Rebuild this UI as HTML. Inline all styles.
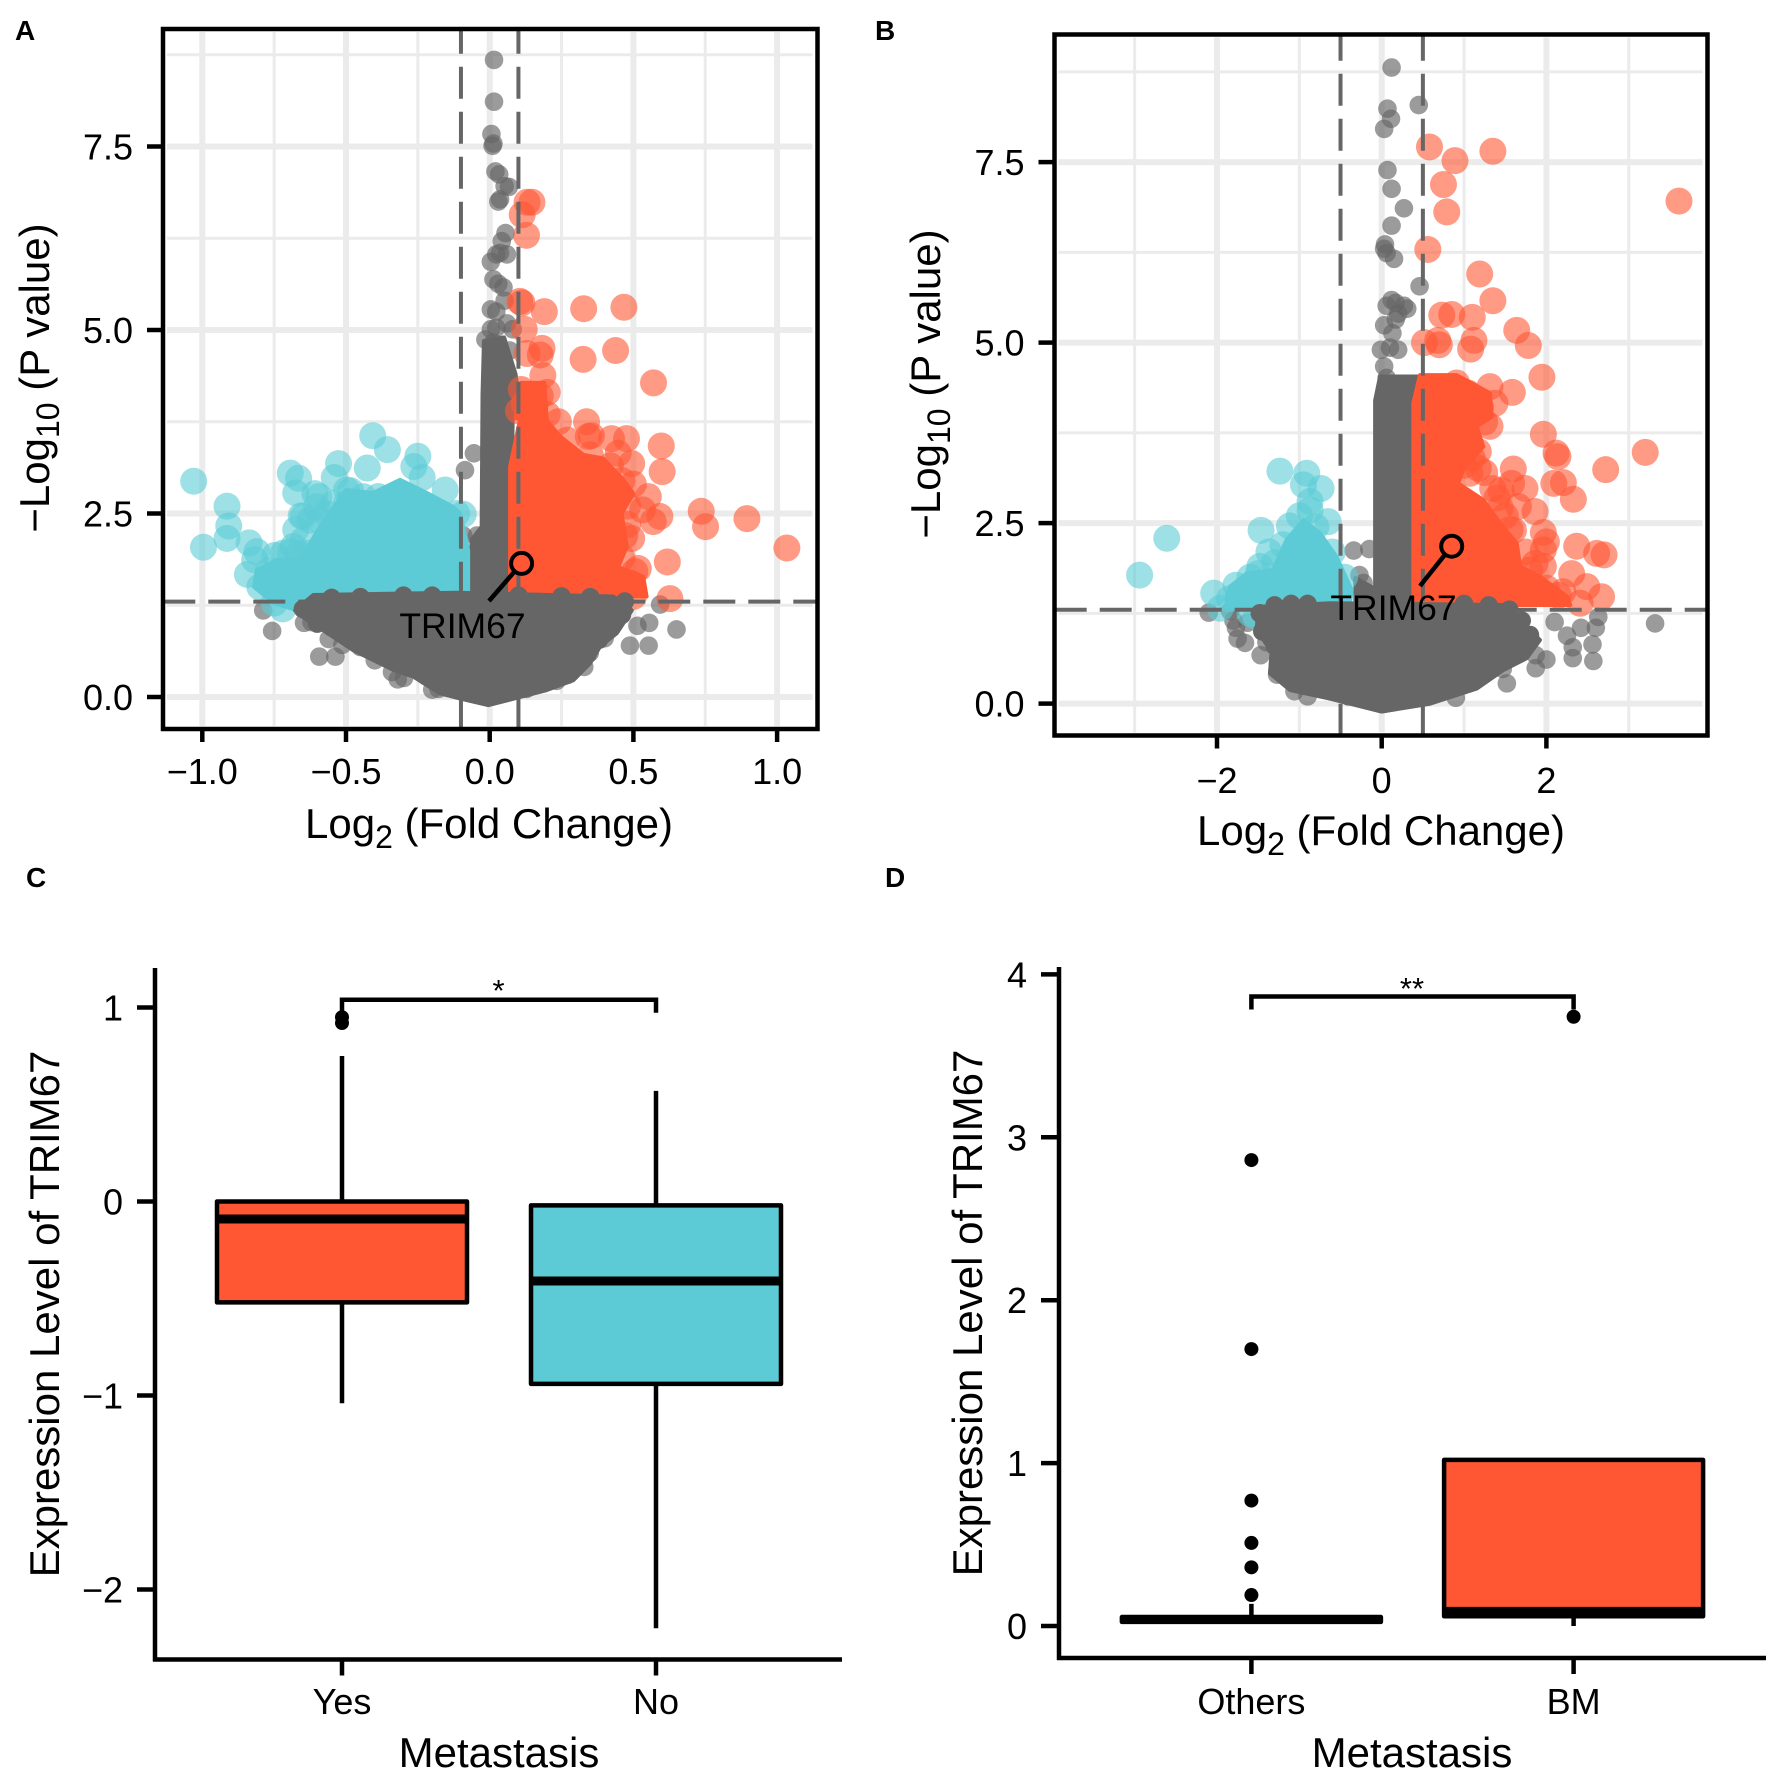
<!DOCTYPE html>
<html lang="en">
<head>
<meta charset="utf-8">
<title>TRIM67 volcano and box plots</title>
<style>
html,body{margin:0;padding:0;background:#fff}
svg{display:block}
text{font-family:"Liberation Sans",Arial,sans-serif;fill:#000}
</style>
</head>
<body>
<svg id="figure" xmlns="http://www.w3.org/2000/svg" width="1772" height="1775" viewBox="0 0 1772 1775">
  <rect x="0" y="0" width="1772" height="1775" fill="#fff"/>
  <g id="panelA"></g>
  <g id="panelB"></g>
  <g id="panelC"></g>
  <g id="panelD"></g>

  <text x="15" y="40" font-size="28" font-weight="bold">A</text>
  <text x="875" y="40" font-size="28" font-weight="bold">B</text>
  <text x="26" y="887" font-size="28" font-weight="bold">C</text>
  <text x="885" y="887" font-size="28" font-weight="bold">D</text>

  <text x="489" y="838" font-size="42" text-anchor="middle">Log<tspan font-size="32" dy="10">2</tspan><tspan dy="-10"> (Fold Change)</tspan></text>
  <text transform="translate(49 378) rotate(-90)" font-size="42" text-anchor="middle">−Log<tspan font-size="32" dy="10">10</tspan><tspan dy="-10"> (P value)</tspan></text>
  <text x="1381" y="845" font-size="42" text-anchor="middle">Log<tspan font-size="32" dy="10">2</tspan><tspan dy="-10"> (Fold Change)</tspan></text>
  <text transform="translate(940 384) rotate(-90)" font-size="42" text-anchor="middle">−Log<tspan font-size="32" dy="10">10</tspan><tspan dy="-10"> (P value)</tspan></text>
  <text x="499" y="1767" font-size="42" text-anchor="middle">Metastasis</text>
  <text transform="translate(59 1314) rotate(-90)" font-size="42" text-anchor="middle">Expression Level of TRIM67</text>
  <text x="1412" y="1767" font-size="42" text-anchor="middle">Metastasis</text>
  <text transform="translate(982 1313) rotate(-90)" font-size="42" text-anchor="middle">Expression Level of TRIM67</text>
  <text x="498.5" y="1001" font-size="31" text-anchor="middle">*</text>
  <text x="1412" y="999" font-size="31" text-anchor="middle">**</text>
</svg>
<script>
// ---------- Panel A values (log2 FC, -log10 P) ----------
const aXTicks = [-1, -0.5, 0, 0.5, 1];
const aXTickLabels = ['−1.0', '−0.5', '0.0', '0.5', '1.0'];
const aXMinor = [-0.75, -0.25, 0.25, 0.75];
const aYTicks = [0, 2.5, 5, 7.5];
const aYTickLabels = ['0.0', '2.5', '5.0', '7.5'];
const aYMinor = [1.25, 3.75, 6.25, 8.75];
const aThresholdX = [-0.1, 0.1];
const aThresholdY = 1.3;
const aGreyBase = [[-0.677,1.18],[-0.614,1.39],[-0.115,1.42],[0.43,1.37],[0.494,1.18],[0.442,0.87],[0.384,0.69],[0.349,0.46],[0.291,0.23],[0.198,0.095],[0.105,0],[-0.005,-0.11],[-0.103,-0.02],[-0.173,0.05],[-0.266,0.28],[-0.335,0.37],[-0.475,0.64],[-0.579,0.91],[-0.65,1.09]];
const aGreyNeck = [[-0.07,1.4],[-0.063,2.14],[-0.028,2.32],[-0.025,4.12],[-0.02,4.85],[0.05,4.9],[0.09,4.4],[0.1,4.1],[0.08,3.8],[0.07,1.4]];
const aGreyEdge = [[-0.65,1.2],[-0.6,1.0],[-0.55,0.95],[-0.5,0.85],[-0.45,0.72],[-0.4,0.62],[-0.33,0.5],[-0.28,0.4],[-0.22,0.28],[-0.16,0.17],[-0.1,0.1],[0.1,0.1],[0.17,0.2],[0.24,0.3],[0.29,0.42],[0.34,0.58],[0.38,0.78],[0.43,0.98],[0.46,1.12],[0.47,1.3],[-0.55,1.35],[-0.45,1.36],[-0.3,1.38],[-0.2,1.38],[0.1,1.38],[0.25,1.37],[0.35,1.36]];
const aOrangeCore = [[0.071,1.41],[0.071,3.14],[0.105,3.77],[0.187,3.82],[0.245,3.55],[0.326,3.3],[0.395,3.25],[0.465,2.96],[0.5,2.77],[0.459,2.5],[0.477,2.05],[0.447,1.77],[0.534,1.64],[0.546,1.37]];
const aOrangeBlob = [[0.09,3.8],[0.11,4.28],[0.19,4.28],[0.2,3.7]];
const aTealCore = [[-0.75,1.28],[-0.82,1.5],[-0.81,1.73],[-0.74,1.87],[-0.66,1.87],[-0.59,2.32],[-0.5,2.82],[-0.405,2.78],[-0.312,2.96],[-0.219,2.78],[-0.127,2.59],[-0.103,2.5],[-0.075,2.0],[-0.075,1.42],[-0.545,1.37],[-0.67,1.18]];
const aGreyPoints = [[0.015,8.68],[0.015,8.11],[0.006,7.67],[0.013,7.54],[0.01,7.51],[0.02,7.16],[0.033,7.12],[0.052,6.96],[0.067,6.95],[0.03,6.75],[0.036,6.78],[0.055,6.32],[0.042,6.21],[0.023,6.03],[0.06,6.03],[0.036,6.05],[0.004,5.93],[0.013,5.69],[0.03,5.63],[0.048,5.58],[0.004,5.28],[0.023,5.25],[0.052,5.4],[0.06,5.09],[0.023,5.03],[0.004,5.01],[0.08,5.01],[0.07,4.72],[-0.015,4.87],[0.013,4.83],[-0.788,1.18],[-0.757,0.9],[0.593,1.26],[0.65,0.92],[0.555,1.01],[0.514,0.97],[0.488,0.7],[0.553,0.7],[-0.593,0.55],[-0.537,0.55],[-0.56,0.79],[-0.646,1.01],[-0.513,0.71],[-0.086,3.09],[-0.055,3.32],[-0.32,0.24],[-0.298,0.26],[-0.34,0.34],[-0.178,0.11],[0.233,0.22],[0.329,0.41],[0.348,0.6],[0.128,0.11],[-0.092,2.2],[-0.044,2.2],[-0.6,1.27],[-0.52,1.27],[0.415,0.97],[0.453,1.16],[-0.45,0.68],[-0.4,0.5],[0.27,0.3],[-0.66,1.25],[-0.62,1.02],[-0.2,0.1],[0.4,0.8]];
const aOrangePoints = [[0.13,6.74],[0.147,6.74],[0.113,6.57],[0.128,6.29],[0.105,5.39],[0.112,5.37],[0.19,5.25],[0.327,5.29],[0.467,5.31],[0.12,5.01],[0.182,4.75],[0.176,4.66],[0.13,4.68],[0.438,4.72],[0.325,4.6],[0.57,4.28],[0.185,4.38],[0.11,4.19],[0.176,4.1],[0.138,4.1],[0.157,3.97],[0.239,3.75],[0.337,3.75],[0.343,3.55],[0.354,3.56],[0.424,3.52],[0.476,3.52],[0.447,3.32],[0.597,3.42],[0.494,3.18],[0.6,3.07],[0.552,2.73],[0.532,2.55],[0.569,2.39],[0.592,2.46],[0.736,2.53],[0.751,2.32],[0.895,2.43],[1.034,2.03],[0.618,1.84],[0.494,2.16],[0.505,1.71],[0.517,1.75],[0.627,1.34],[0.5,1.37],[0.5,2.9],[0.48,2.35],[0.49,1.55],[0.27,3.5],[0.35,3.3],[0.42,3.15],[0.46,2.95],[0.48,2.6],[0.47,2.2],[0.46,1.9],[0.1,3.9],[0.12,4.0],[0.2,3.85],[0.15,3.95],[0.2,4.15]];
const aTealPoints = [[-1.03,2.94],[-0.914,2.6],[-0.908,2.33],[-0.914,2.16],[-0.996,2.04],[-0.837,2.1],[-0.81,1.98],[-0.818,1.87],[-0.843,1.67],[-0.77,1.72],[-0.742,1.68],[-0.694,3.05],[-0.665,2.98],[-0.675,2.78],[-0.608,2.77],[-0.656,2.47],[-0.675,2.28],[-0.694,1.98],[-0.665,1.95],[-0.526,3.18],[-0.407,3.56],[-0.356,3.37],[-0.426,3.12],[-0.25,3.28],[-0.264,3.14],[-0.235,2.99],[-0.155,2.82],[-0.092,2.49],[-0.541,2.99],[-0.484,2.81],[-0.388,2.73],[-0.594,2.73],[-0.498,2.82],[-0.649,2.46],[-0.115,2.5],[-0.747,1.93],[-0.776,1.59],[-0.8,1.5],[-0.75,1.28],[-0.72,1.2],[-0.59,2.41],[-0.567,2.5],[-0.602,2.59],[-0.544,2.64],[-0.625,2.41],[-0.648,2.14],[-0.683,2.05],[-0.718,1.96],[-0.637,1.96],[-0.498,2.64],[-0.44,2.73]];
const aHighlight = [0.111, 1.82];

// ---------- Panel B values ----------
const bXTicks = [-2, 0, 2];
const bXTickLabels = ['−2', '0', '2'];
const bXMinor = [-3, -1, 1, 3];
const bYTicks = [0, 2.5, 5, 7.5];
const bYTickLabels = ['0.0', '2.5', '5.0', '7.5'];
const bYMinor = [1.25, 3.75, 6.25, 8.75];
const bThresholdX = [-0.5, 0.5];
const bThresholdY = 1.3;
const bGreyBase = [[-1.498,1.34],[-1.518,1.02],[-1.336,0.72],[-1.356,0.42],[-1.114,0.19],[-0.628,0.07],[0,-0.11],[0.587,0],[1.154,0.21],[1.477,0.465],[1.76,0.63],[1.92,0.88],[1.72,1.11],[1.518,1.366],[-0.628,1.39]];
const bGreyNeck = [[-0.32,1.36],[-0.32,1.74],[-0.08,1.59],[-0.08,4.2],[-0.02,4.53],[0.56,4.53],[0.38,4.2],[0.38,1.36]];
const bGreyEdge = [[-1.48,1.25],[-1.45,1.0],[-1.3,0.8],[-1.25,0.55],[-1.1,0.35],[-0.9,0.25],[-0.7,0.2],[-0.4,0.1],[0.4,0.1],[0.7,0.2],[1.0,0.3],[1.25,0.47],[1.5,0.65],[1.7,0.8],[1.8,0.95],[1.7,1.15],[1.55,1.3],[-1.3,1.36],[-1.1,1.38],[-0.9,1.38],[1.0,1.38],[1.3,1.36]];
const bOrangeCore = [[0.384,1.366],[0.384,4.16],[0.465,4.55],[0.91,4.55],[1.315,4.3],[1.335,3.97],[1.153,3.84],[1.234,3.56],[0.991,3.24],[0.93,3.05],[1.234,2.82],[1.436,2.5],[1.64,2.22],[1.68,1.9],[1.92,1.76],[2.25,1.48],[2.29,1.366]];
const bTealCore = [[-1.88,1.34],[-1.882,1.48],[-1.842,1.62],[-1.64,1.8],[-1.32,1.85],[-1.154,2.27],[-0.95,2.54],[-0.75,2.36],[-0.547,2.03],[-0.364,1.57],[-0.385,1.39],[-1.5,1.32]];
const bGreyPoints = [[0.12,8.81],[0.07,8.24],[0.45,8.29],[0.113,8.1],[0.03,7.96],[0.07,7.39],[0.12,7.13],[0.27,6.86],[0.12,6.62],[0.04,6.36],[0.03,6.3],[0.06,6.24],[0.15,6.16],[0.46,5.78],[0.12,5.59],[0.17,5.55],[0.06,5.51],[0.27,5.51],[0.2,5.4],[0.31,5.47],[0.03,5.24],[0.13,5.13],[0.17,5.32],[0.1,4.93],[-0.01,4.9],[0.2,4.9],[0.03,4.67],[0.06,4.51],[-0.34,2.12],[-0.15,2.14],[-0.27,1.78],[-0.22,1.67],[-2.1,1.26],[-1.84,1.28],[-1.77,1.05],[-1.66,0.84],[-1.47,0.67],[3.32,1.11],[2.6,1.05],[2.63,1.2],[2.56,0.82],[2.57,0.59],[2.32,0.63],[2.32,0.78],[2.25,0.94],[2.1,1.13],[2.42,1.05],[2.0,0.61],[1.87,0.49],[1.87,0.67],[1.52,0.28],[1.47,0.48],[-1.06,0.17],[-1.27,0.4],[-1.75,0.9],[-1.63,1.12],[-1.8,1.15],[-1.4,0.85],[-0.9,0.1],[0.9,0.08]];
const bOrangePoints = [[0.58,7.71],[0.89,7.52],[1.35,7.65],[0.75,7.19],[0.79,6.81],[3.61,6.96],[0.56,6.29],[1.19,5.95],[1.35,5.58],[0.73,5.38],[0.85,5.39],[1.1,5.35],[1.64,5.17],[1.78,4.96],[1.12,5.03],[1.08,4.91],[0.52,5.0],[0.68,5.03],[0.7,4.97],[0.91,4.44],[1.315,4.39],[1.586,4.31],[1.946,4.52],[1.376,4.16],[1.315,3.84],[1.963,3.73],[2.117,3.47],[2.14,3.42],[1.173,3.49],[1.173,3.26],[1.598,3.25],[2.72,3.24],[3.2,3.48],[2.09,3.05],[2.206,3.06],[2.327,2.83],[1.348,2.98],[1.578,3.05],[1.74,2.98],[1.66,2.73],[1.862,2.66],[1.963,2.37],[2.0,2.24],[1.963,2.13],[2.368,2.18],[2.61,2.08],[2.7,2.06],[1.862,1.94],[2.307,1.8],[2.49,1.62],[2.67,1.48],[1.558,2.41],[2.41,1.39],[1.963,1.9],[2.145,1.5],[1.07,3.19],[1.44,2.71],[1.2,4.1],[1.25,3.9],[1.1,3.4],[1.0,3.3],[1.25,3.2],[1.4,2.85],[1.5,2.6],[1.6,2.4],[1.75,2.1],[1.8,1.85],[2.0,1.6],[2.2,1.55],[1.05,4.3],[1.1,4.2],[1.45,2.95]];
const bTealPoints = [[-2.94,1.78],[-2.61,2.29],[-2.04,1.53],[-1.96,1.32],[-1.77,1.64],[-1.236,3.22],[-0.91,3.19],[-0.95,3.03],[-0.737,2.98],[-0.87,2.8],[-0.87,2.68],[-0.65,2.52],[-1.465,2.4],[-1.12,2.46],[-1.37,2.1],[-1.48,1.9],[-1.5,1.8],[-1.63,1.48],[-1.52,1.21],[-1.6,1.25],[-1.2,2.2],[-1.0,2.6],[-0.8,2.45],[-0.6,2.1],[-1.3,1.95],[-1.6,1.75],[-1.7,1.5],[-0.45,1.75],[-1.85,1.45]];
const bHighlight = [0.85, 2.18];

// ---------- Panel C values ----------
const cCategories = ['Yes', 'No'];
const cYTicks = [1, 0, -1, -2];
const cYTickLabels = ['1', '0', '−1', '−2'];
const cQ1 = [-0.52, -0.94];
const cMedian = [-0.09, -0.41];
const cQ3 = [0, -0.02];
const cWhiskerLow = [-1.04, -2.2];
const cWhiskerHigh = [0.75, 0.57];
const cOutliers = [[0.95, 0.92], []];
const cFills = ['#FF5733', '#5CCBD5'];
const cBracket = 1.04;

// ---------- Panel D values ----------
const dCategories = ['Others', 'BM'];
const dYTicks = [4, 3, 2, 1, 0];
const dYTickLabels = ['4', '3', '2', '1', '0'];
const dQ1 = [0.025, 0.06];
const dMedian = [0.04, 0.09];
const dQ3 = [0.055, 1.02];
const dWhiskerLow = [0.025, 0];
const dWhiskerHigh = [0.136, 1.02];
const dOutliers = [[2.86, 1.7, 0.77, 0.51, 0.36, 0.19], [3.74]];
const dFills = ['#FF5733', '#FF5733'];
const dBracket = 3.864;

// ---------- Axis functions ----------
const aX = v => 489.7 + 287.4 * v;
const aY = v => 697 - 73.4 * v;
const bX = v => 1381.7 + 82.35 * v;
const bY = v => 703.6 - 72.2 * v;
const cX = i => 342 + 314 * i;
const cY = v => 1201.5 - 194 * v;
const dX = i => 1251.4 + 322.2 * i;
const dY = v => 1626 - 162.9 * v;

const NS = 'http://www.w3.org/2000/svg';
function mk(tag, attrs, parent) {
  const e = document.createElementNS(NS, tag);
  for (const k in attrs) e.setAttribute(k, attrs[k]);
  parent.appendChild(e);
  return e;
}
function tickText(parent, x, y, label, anchor) {
  const t = mk('text', {x: x, y: y, 'font-size': 36, 'text-anchor': anchor}, parent);
  t.textContent = label;
  
  
}
function line(parent, x1, y1, x2, y2, color, width) {
  const l = mk('line', {x1: x1, y1: y1, x2: x2, y2: y2, stroke: color, 'stroke-width': width}, parent);
  return l;
}
function drawCore(parent, pts, fx, fy, color) {
  const p = mk('polygon', {points: pts.map(q => fx(q[0]) + ',' + fy(q[1])).join(' '), fill: color, stroke: color, 'stroke-width': 4, 'stroke-linejoin': 'round'}, parent);
  
  
}
function drawPoints(parent, pts, fx, fy, color, r, alpha) {
  pts.forEach(q => {
    const c = mk('circle', {cx: fx(q[0]), cy: fy(q[1]), r: r, fill: color, 'fill-opacity': alpha}, parent);
    
    
  });
}

function drawVolcano(cfg) {
  const g = cfg.g, fx = cfg.fx, fy = cfg.fy, F = cfg.frame;
  const GRID = '#ebebeb';
  cfg.xMinor.forEach(v => {
    const l = line(g, fx(v), F.t + 3, fx(v), F.b - 3, GRID, 3);
    
    
  });
  cfg.yMinor.forEach(v => {
    const l = line(g, F.l + 4, fy(v), F.r - 5, fy(v), GRID, 3);
    
    
  });
  cfg.xTicks.forEach(v => {
    const l = line(g, fx(v), F.t + 3, fx(v), F.b - 3, GRID, 6);
    
    
  });
  cfg.yTicks.forEach(v => {
    const l = line(g, F.l + 4, fy(v), F.r - 5, fy(v), GRID, 6);
    
    
  });
  drawPoints(g, cfg.greyPts, fx, fy, '#666666', 9.3, 0.65);
  cfg.greyCores.forEach(c => drawCore(g, c, fx, fy, '#666666'));
  cfg.tealCores.forEach(c => drawCore(g, c, fx, fy, '#5CCBD5'));
  drawPoints(g, cfg.tealPts, fx, fy, '#5CCBD5', 13.5, 0.6);
  cfg.orangeCores.forEach(c => drawCore(g, c, fx, fy, '#FF5733'));
  drawPoints(g, cfg.orangePts, fx, fy, '#FF5733', 13.5, 0.6);
  // the grey base sits over the threshold foot of the coloured clouds
  drawCore(g, cfg.greyCores[0], fx, fy, '#666666');
  drawPoints(g, cfg.greyEdge, fx, fy, '#666666', 9.3, 1);

  cfg.thX.forEach(v => {
    const l = line(g, fx(v), F.t + 2, fx(v), F.b - 2, '#666666', 4);
    l.setAttribute('stroke-dasharray', '32 13');
    l.setAttribute('stroke-dashoffset', cfg.vOffset);
    
    
  });
  const h = line(g, F.l + 2, fy(cfg.thY), F.r - 2, fy(cfg.thY), '#666666', 4);
  h.setAttribute('stroke-dasharray', '32 13');
  h.setAttribute('stroke-dashoffset', cfg.hOffset);
  
  

  const hx = fx(cfg.hl[0]), hy = fy(cfg.hl[1]);
  const lead = line(g, hx, hy, cfg.leadTo[0], cfg.leadTo[1], '#000', 4.5);
  
  
  const ring = mk('circle', {cx: hx, cy: hy, r: 10.5, fill: '#FF5733', stroke: '#000', 'stroke-width': 4}, g);
  
  
  const lab = mk('text', {x: cfg.labelAt[0], y: cfg.labelAt[1], 'font-size': 35.5, 'text-anchor': 'middle'}, g);
  lab.textContent = 'TRIM67';
  
  

  const frame = mk('rect', {x: F.l, y: F.t, width: F.r - F.l, height: F.b - F.t, fill: 'none', stroke: '#000', 'stroke-width': 4.5}, g);
  
  

  cfg.xTicks.forEach((v, i) => {
    const t = line(g, fx(v), F.b, fx(v), F.b + 13, '#000', 4.5);
    
    
    tickText(g, fx(v), cfg.xLabelY, cfg.xLabels[i], 'middle');
  });
  cfg.yTicks.forEach((v, i) => {
    const t = line(g, F.l - 16, fy(v), F.l, fy(v), '#000', 4.5);
    
    
    tickText(g, F.l - 30, fy(v) + 13, cfg.yLabels[i], 'end');
  });
}

function drawBox(cfg) {
  const g = cfg.g, fx = cfg.fx, fy = cfg.fy, A = cfg.axis;
  const yAxis = line(g, A.x, A.top, A.x, A.bottom + 2, '#000', 4.5);
  
  
  const xAxis = line(g, A.x - 2, A.bottom, A.right, A.bottom, '#000', 4.5);
  
  

  cfg.yTicks.forEach((v, i) => {
    const t = line(g, A.x - 18, fy(v), A.x, fy(v), '#000', 4.5);
    
    
    tickText(g, A.x - 32, fy(v) + 13, cfg.yLabels[i], 'end');
  });
  cfg.categories.forEach((name, i) => {
    const cx = fx(i);
    const t = line(g, cx, A.bottom, cx, A.bottom + 16, '#000', 4.5);
    
    
    tickText(g, cx, cfg.xLabelY, name, 'middle');

    const w1 = line(g, cx, fy(cfg.q3[i]), cx, fy(cfg.high[i]), '#000', 4.5);
    
    
    const w2 = line(g, cx, fy(cfg.q1[i]), cx, fy(cfg.low[i]), '#000', 4.5);
    
    

    const box = mk('rect', {x: cx - cfg.half, y: fy(cfg.q3[i]), width: cfg.half * 2, height: fy(cfg.q1[i]) - fy(cfg.q3[i]), fill: cfg.fills[i], stroke: '#000', 'stroke-width': 4.5, 'stroke-linejoin': 'round'}, g);
    
    
    const med = line(g, cx - cfg.half, fy(cfg.median[i]), cx + cfg.half, fy(cfg.median[i]), '#000', 9);
    
    
    cfg.outliers[i].forEach(v => {
      const o = mk('circle', {cx: cx, cy: fy(v), r: 7, fill: '#000'}, g);
      
      
    });
  });
  const by = fy(cfg.bracket), x0 = fx(0), x1 = fx(1);
  const br = mk('path', {d: 'M' + x0 + ' ' + (by + 13) + 'V' + by + 'H' + x1 + 'V' + (by + 13), fill: 'none', stroke: '#000', 'stroke-width': 4.5}, g);
  
  
}

drawVolcano({
  g: document.getElementById('panelA'), fx: aX, fy: aY,
  frame: {l: 163, r: 817.5, t: 29, b: 729},
  xTicks: aXTicks, xLabels: aXTickLabels, xMinor: aXMinor,
  yTicks: aYTicks, yLabels: aYTickLabels, yMinor: aYMinor,
  thX: aThresholdX, thY: aThresholdY, vOffset: 9.3, hOffset: 1.7,
  greyPts: aGreyPoints, greyCores: [aGreyBase, aGreyNeck], greyEdge: aGreyEdge,
  tealCores: [aTealCore], tealPts: aTealPoints,
  orangeCores: [aOrangeCore, aOrangeBlob], orangePts: aOrangePoints,
  hl: aHighlight, leadTo: [489, 601], labelAt: [462.5, 638], xLabelY: 784
});
drawVolcano({
  g: document.getElementById('panelB'), fx: bX, fy: bY,
  frame: {l: 1054.5, r: 1707.5, t: 34.5, b: 735.5},
  xTicks: bXTicks, xLabels: bXTickLabels, xMinor: bXMinor,
  yTicks: bYTicks, yLabels: bYTickLabels, yMinor: bYMinor,
  thX: bThresholdX, thY: bThresholdY, vOffset: 7.7, hOffset: 1.8,
  greyPts: bGreyPoints, greyCores: [bGreyBase, bGreyNeck], greyEdge: bGreyEdge,
  tealCores: [bTealCore], tealPts: bTealPoints,
  orangeCores: [bOrangeCore], orangePts: bOrangePoints,
  hl: bHighlight, leadTo: [1420, 586], labelAt: [1393.5, 620], xLabelY: 793
});
drawBox({
  g: document.getElementById('panelC'), fx: cX, fy: cY,
  axis: {x: 155, top: 968, bottom: 1659.5, right: 842},
  yTicks: cYTicks, yLabels: cYTickLabels, categories: cCategories,
  q1: cQ1, median: cMedian, q3: cQ3, low: cWhiskerLow, high: cWhiskerHigh,
  outliers: cOutliers, fills: cFills, half: 125, bracket: cBracket, xLabelY: 1714
});
drawBox({
  g: document.getElementById('panelD'), fx: dX, fy: dY,
  axis: {x: 1059, top: 967, bottom: 1658, right: 1766},
  yTicks: dYTicks, yLabels: dYTickLabels, categories: dCategories,
  q1: dQ1, median: dMedian, q3: dQ3, low: dWhiskerLow, high: dWhiskerHigh,
  outliers: dOutliers, fills: dFills, half: 129.5, bracket: dBracket, xLabelY: 1714
});
</script>
</body>
</html>
